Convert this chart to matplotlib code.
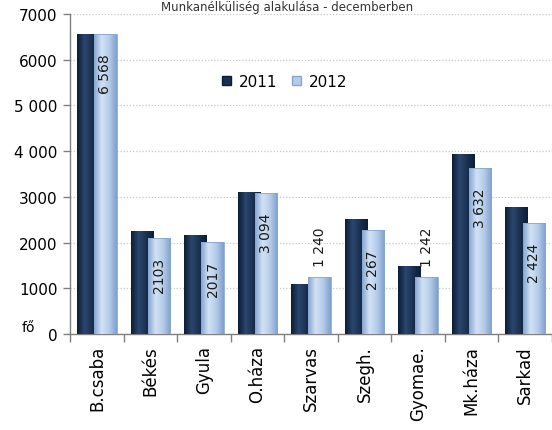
import numpy as np
import matplotlib
matplotlib.use("Agg")
import matplotlib.pyplot as plt
from matplotlib.colors import LinearSegmentedColormap
from matplotlib.patches import Patch

categories = ["B.csaba", "Békés", "Gyula", "O.háza", "Szarvas", "Szegh.", "Gyomae.", "Mk.háza", "Sarkad"]
values_2011 = [6570, 2260, 2166, 3100, 1088, 2516, 1495, 3940, 2786]
values_2012 = [6568, 2103, 2017, 3094, 1240, 2267, 1242, 3632, 2424]
labels_2012 = ["6 568", "2103", "2017", "3 094", "1 240", "2 267", "1 242", "3 632", "2 424"]
label_above = [False, False, False, False, True, False, True, False, False]
series_names = ["2011", "2012"]
yticks = [0, 1000, 2000, 3000, 4000, 5000, 6000, 7000]
ytick_labels = ["0", "1000", "2000", "3000", "4 000", "5 000", "6000", "7000"]
title = "Munkanélküliség alakulása - decemberben"

plt.rcParams["font.family"] = ["DejaVu Sans"]

fig = plt.figure(figsize=(5.52, 4.31), dpi=100)
ax = fig.add_axes([0.127, 0.2227, 0.873, 0.7423])

x = np.arange(len(categories))
w = 0.42
off = 0.16

dark_cmap = LinearSegmentedColormap.from_list("d", ["#0c1d36", "#2b466e", "#1a3050", "#0c1d36"])
light_cmap = LinearSegmentedColormap.from_list("l", ["#86a6d2", "#d2e2f4", "#b4cbe9", "#7f9fcc"])

def grad_bars(bars, cmap, z):
    grad = np.linspace(0, 1, 64).reshape(1, -1)
    for b in bars:
        x0, y0 = b.get_x(), b.get_y()
        ww, hh = b.get_width(), b.get_height()
        im = ax.imshow(grad, cmap=cmap, aspect="auto", extent=[x0, x0 + ww, y0, y0 + hh],
                       zorder=z, interpolation="bilinear")
        im.set_clip_path(b)

b1 = ax.bar(x - off, values_2011, width=w, color="#1a3050", edgecolor="none", zorder=3)
grad_bars(b1, dark_cmap, 3.1)
b2 = ax.bar(x + off, values_2012, width=w, color="#b4cbe9", edgecolor="#8aa6cc", linewidth=0.6, zorder=4)
grad_bars(b2, light_cmap, 4.1)
for b in b2:
    b.set_zorder(4.2)
    b.set_facecolor("none")

for xi, v, lab, above in zip(x, values_2012, labels_2012, label_above):
    if above:
        ax.annotate(lab, (xi + off, v), xytext=(0, 8), textcoords="offset points",
                    rotation=90, ha="center", va="bottom", fontsize=10, color="#1a1a1a", zorder=6)
    else:
        ax.annotate(lab, (xi + off, v), xytext=(0, -14), textcoords="offset points",
                    rotation=90, ha="center", va="top", fontsize=10, color="#1a1a1a", zorder=6)

ax.set_xlim(-0.5, len(categories) - 0.5)
ax.set_ylim(0, 7000)
ax.set_yticks(yticks)
ax.set_yticklabels(ytick_labels, fontsize=11)
ax.set_xticks(x)
ax.set_xticklabels(categories, rotation=90, fontsize=12)
ax.tick_params(axis="x", length=0, pad=8)
ax.set_xticks(np.arange(-0.5, len(categories), 1.0), minor=True)
ax.tick_params(axis="x", which="minor", length=6, color="#808080", width=1)
ax.tick_params(axis="y", length=5, color="#808080", width=1, pad=4)

for s in ["top", "right"]:
    ax.spines[s].set_visible(False)
for s in ["left", "bottom"]:
    ax.spines[s].set_color("#808080")
    ax.spines[s].set_linewidth(1)

ax.yaxis.grid(True, linestyle=(0, (1, 1.5)), color="#c8c8c8", linewidth=0.9, zorder=0)
ax.set_axisbelow(True)

handles = [Patch(facecolor="#1a3050", edgecolor="#0c1d36"), Patch(facecolor="#b4cbe9", edgecolor="#8aa6cc")]
ax.legend(handles, series_names, loc="center", bbox_to_anchor=(0.445, 0.79), ncol=2, frameon=False,
          fontsize=11, handlelength=0.6, handleheight=0.6, columnspacing=1.0, handletextpad=0.5)

fig.text(22 / 552, 1 - 328 / 431, "fő", fontsize=10, ha="left", va="center")
fig.text(0.52, 0.998, title, fontsize=8.5, ha="center", va="top", color="#333333")

fig.savefig("out.png", dpi=100)
